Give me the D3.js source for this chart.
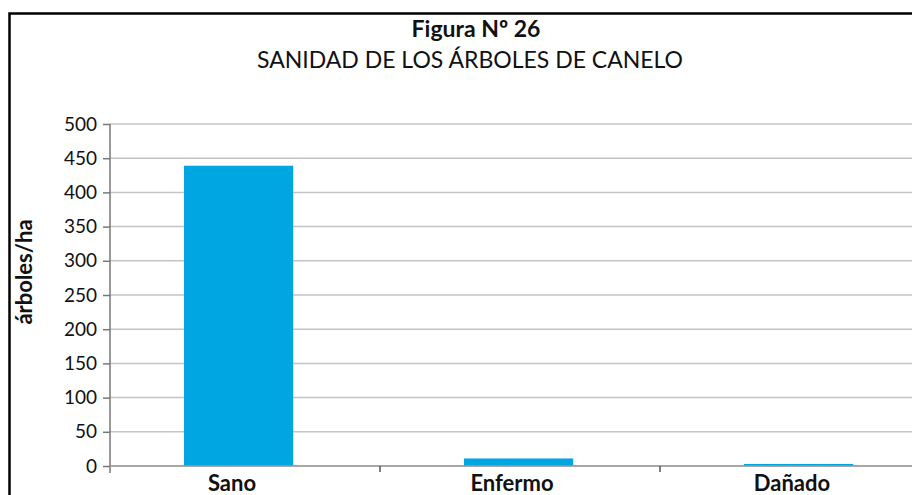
<!DOCTYPE html>
<html>
<head>
<meta charset="utf-8">
<script src="https://cdn.jsdelivr.net/npm/d3@7"></script>
<style>
	body { margin: 0; background: #fff; }
	svg { display: block; font-family: Lato, "Open Sans", sans-serif; }
</style>
</head>
<body>
<div id="chart"></div>
<script>
const categories = ['Sano', 'Enfermo', 'Dañado'];
const values = [439, 11, 3];
const y_ticks = [0, 50, 100, 150, 200, 250, 300, 350, 400, 450, 500];
const title = 'Figura Nº 26';
const subtitle = 'SANIDAD DE LOS ÁRBOLES DE CANELO';
const y_label = 'árboles/ha';

const width = 912;
const height = 495;
const bar_color = '#00a6e2';

let svg = d3.select('#chart')
	.append('svg')
	.attr('width', width)
	.attr('height', height)

// frame around the figure (cut off right and bottom, like the scan)
svg.append('rect')
	.attr('x', 9.5)
	.attr('y', 13.5)
	.attr('width', 1000)
	.attr('height', 600)
	.attr('fill', 'none')
	.attr('stroke', '#000')
	.attr('stroke-width', 2.5)

let x = d3.scaleBand()
	.domain(categories)
	.range([100, 940])
	.padding(0)

let y = d3.scaleLinear()
	.domain([0, 500])
	.range([466, 124])

const left = 110;

// gridlines
svg.append('g')
	.selectAll('line')
	.data(y_ticks)
	.join('line')
	.attr('x1', left)
	.attr('x2', width)
	.attr('y1', d => y(d))
	.attr('y2', d => y(d))
	.attr('stroke', '#c4c4c4')
	.attr('stroke-width', 1.5)

// bars
svg.append('g')
	.selectAll('rect')
	.data(values)
	.join('rect')
	.attr('x', (d, i) => x(categories[i]) + x.bandwidth() * 0.3)
	.attr('width', x.bandwidth() * 0.39)
	.attr('y', d => y(d))
	.attr('height', d => y(0) - y(d))
	.attr('fill', bar_color)

// y axis
let y_axis = svg.append('g')
	.attr('transform', 'translate(' + left + ',0)')
	.call(d3.axisLeft(y).tickValues(y_ticks).tickSize(7).tickPadding(6))

y_axis.select('.domain')
	.attr('d', 'M0,' + y(500) + 'V' + (y(0) + 7))
	.attr('stroke', '#777')
	.attr('stroke-width', 1.5)
y_axis.selectAll('.tick line').attr('stroke', '#777').attr('stroke-width', 1.5)
y_axis.selectAll('.tick text')
	.attr('font-size', 19)
	.attr('fill', '#111')
	.attr('font-family', 'Lato, sans-serif')

// x axis line + separators between categories
svg.append('line')
	.attr('x1', left)
	.attr('x2', width)
	.attr('y1', y(0))
	.attr('y2', y(0))
	.attr('stroke', '#999')
	.attr('stroke-width', 1.5)

svg.append('g')
	.selectAll('line')
	.data(categories.slice(1))
	.join('line')
	.attr('x1', d => x(d))
	.attr('x2', d => x(d))
	.attr('y1', y(0))
	.attr('y2', y(0) + 6)
	.attr('stroke', '#555')
	.attr('stroke-width', 1.5)

svg.append('g')
	.selectAll('text')
	.data(categories)
	.join('text')
	.attr('x', d => x(d) + x.bandwidth() / 2 - 8)
	.attr('y', 491)
	.attr('text-anchor', 'middle')
	.attr('font-size', 22)
	.attr('font-weight', 'bold')
	.attr('fill', '#111')
	.text(d => d)

// y label
svg.append('text')
	.attr('transform', 'translate(32,272) rotate(-90)')
	.attr('text-anchor', 'middle')
	.attr('font-size', 22)
	.attr('font-weight', 'bold')
	.attr('fill', '#111')
	.text(y_label)

// titles
svg.append('text')
	.attr('x', 476)
	.attr('y', 37)
	.attr('text-anchor', 'middle')
	.attr('font-size', 23)
	.attr('font-weight', 'bold')
	.attr('fill', '#111')
	.text(title)

svg.append('text')
	.attr('x', 470)
	.attr('y', 68)
	.attr('text-anchor', 'middle')
	.attr('font-size', 23)
	.attr('fill', '#111')
	.text(subtitle)
</script>
</body>
</html>
